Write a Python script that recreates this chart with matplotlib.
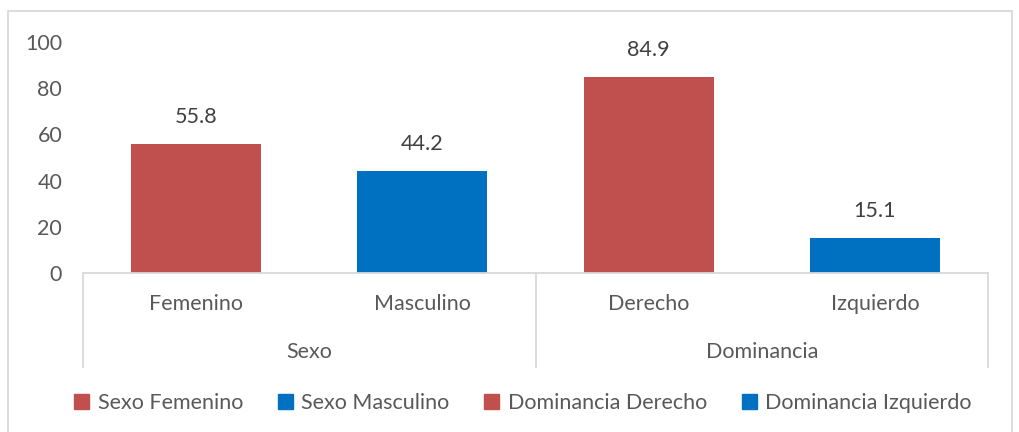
import matplotlib.pyplot as plt
from matplotlib.patches import Rectangle, Patch

# data
groups = ["Sexo", "Dominancia"]
categories = ["Femenino", "Masculino", "Derecho", "Izquierdo"]
group_of = ["Sexo", "Sexo", "Dominancia", "Dominancia"]
values = [55.8, 44.2, 84.9, 15.1]
colors = ["#C0504D", "#0070C0", "#C0504D", "#0070C0"]
yticks = [0, 20, 40, 60, 80, 100]

plt.rcParams['font.family'] = ['Lato', 'DejaVu Sans']
txt = "#595959"
line = "#D9D9D9"
fs = 15.5

fig = plt.figure(figsize=(10.2, 4.32), dpi=100)
ax = fig.add_axes([83/1020, 1-273/432, 905/1020, 231/432])

x = range(len(categories))
bars = ax.bar(x, values, width=0.575, color=colors)
for xi, v in zip(x, values):
    ax.annotate(f"{v:.1f}", (xi, v), xytext=(0, 12), textcoords="offset points",
                ha="center", va="bottom", fontsize=fs, color="#404040")

ax.set_xlim(-0.5, len(categories) - 0.5)
ax.set_ylim(0, 100)
ax.set_yticks(yticks)
ax.tick_params(axis='y', length=0, labelsize=fs, labelcolor=txt, pad=15)
ax.set_xticks([])
for s in ["top", "right", "left"]:
    ax.spines[s].set_visible(False)
ax.spines["bottom"].set_color(line)
ax.spines["bottom"].set_linewidth(1.3)

# multi-level category axis
tr = ax.get_xaxis_transform()
for xi, c in zip(x, categories):
    ax.text(xi, -31/231, c, transform=tr, ha="center", va="center", fontsize=fs, color=txt)
for i, g in enumerate(groups):
    idx = [k for k, gg in enumerate(group_of) if gg == g]
    ax.text(sum(idx)/len(idx), -79/231, g, transform=tr, ha="center", va="center", fontsize=fs, color=txt)
for xb in [-0.5, 1.5, 3.5]:
    ax.plot([xb, xb], [0, -94/231], transform=tr, color=line, lw=1.3, clip_on=False)

# legend
handles = [Patch(color=c) for c in colors]
labels = [f"{g} {c}" for g, c in zip(group_of, categories)]
fig.legend(handles, labels, loc="center", bbox_to_anchor=(523/1020, 1-403/432), ncol=4,
           frameon=False, fontsize=fs, labelcolor=txt, handlelength=0.7, handleheight=0.7,
           handletextpad=0.4, columnspacing=1.6)

# outer border
fig.patches.append(Rectangle((8/1020, -0.05), 1004/1020, 1.05 - 11/432, transform=fig.transFigure,
                             fill=False, edgecolor=line, lw=1.3))

fig.savefig("out.png", dpi=100)
